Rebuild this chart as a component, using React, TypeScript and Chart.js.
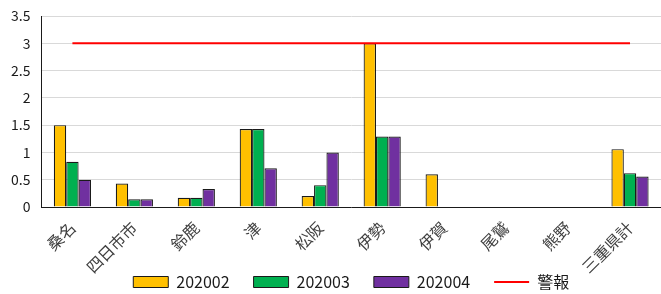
import React, { useEffect, useRef } from "react";
import { Chart, registerables } from "chart.js";

Chart.register(...registerables);

const categories = ["桑名", "四日市市", "鈴鹿", "津", "松阪", "伊勢", "伊賀", "尾鷲", "熊野", "三重県計"];
const s202002 = [1.5, 0.43, 0.17, 1.43, 0.2, 3.0, 0.6, 0, 0, 1.06];
const s202003 = [0.83, 0.14, 0.17, 1.43, 0.4, 1.29, 0, 0, 0, 0.62];
const s202004 = [0.5, 0.14, 0.33, 0.71, 1.0, 1.29, 0, 0, 0, 0.56];
const alarm = [3, 3, 3, 3, 3, 3, 3, 3, 3, 3];
const yTicks = [0, 0.5, 1, 1.5, 2, 2.5, 3, 3.5];

const FONT = '"Noto Sans CJK JP", "Noto Sans", sans-serif';

export default function App() {
  const ref = useRef<HTMLCanvasElement | null>(null);
  useEffect(() => {
    document.body.style.margin = "0";
    const ctx = ref.current!;
    const barCommon = {
      type: "bar" as const,
      borderColor: "#1a1a1a",
      borderWidth: 1.2,
      categoryPercentage: 0.6,
      barPercentage: 1,
      order: 2,
    };
    const chart = new Chart(ctx, {
      type: "bar",
      data: {
        labels: categories,
        datasets: [
          { ...barCommon, label: "202002", data: s202002, backgroundColor: "#FFC000" },
          { ...barCommon, label: "202003", data: s202003, backgroundColor: "#00B050" },
          { ...barCommon, label: "202004", data: s202004, backgroundColor: "#7030A0" },
          {
            type: "line" as const,
            label: "警報",
            data: alarm,
            borderColor: "#FF0000",
            backgroundColor: "#FF0000",
            borderWidth: 2,
            pointRadius: 0,
            order: 1,
          } as any,
        ],
      },
      options: {
        animation: false,
        responsive: false,
        maintainAspectRatio: false,
        layout: { padding: { left: 0, right: 0, top: 16, bottom: -6 } },
        plugins: {
          tooltip: { enabled: false },
          legend: {
            position: "bottom",
            fullSize: false,
            labels: {
              font: { family: FONT, size: 16 },
              color: "#1a1a1a",
              usePointStyle: true,
              pointStyleWidth: 35,
              boxHeight: 11,
              padding: 24,
              sort: (a: any, b: any) => a.datasetIndex - b.datasetIndex,
              generateLabels: (c: any) => {
                const items = Chart.defaults.plugins.legend.labels.generateLabels(c);
                return items.map((it: any) => {
                  if (it.datasetIndex === 3) {
                    return { ...it, pointStyle: "line", lineWidth: 2, strokeStyle: "#FF0000", fillStyle: "#FF0000" };
                  }
                  return { ...it, pointStyle: "rect", lineWidth: 1, strokeStyle: "#1a1a1a" };
                });
              },
            },
          },
        },
        scales: {
          x: {
            grid: { display: false, drawTicks: false },
            border: { color: "#1a1a1a", width: 1 },
            afterFit: (scale: any) => {
              scale.height = 43;
              // let the rotated labels run past the axis box, as in the reference
              scale._computeLabelArea = () => undefined;
            },
            ticks: {
              font: { family: FONT, size: 16 },
              color: "#404040",
              maxRotation: 45,
              minRotation: 45,
              padding: 11,
            },
          },
          y: {
            min: 0,
            max: 3.5,
            afterBuildTicks: (axis: any) => {
              axis.ticks = yTicks.map((v) => ({ value: v }));
            },
            afterFit: (scale: any) => {
              scale.paddingTop = 0;
            },
            grid: { color: "#D9D9D9", lineWidth: 1, drawTicks: false },
            border: { color: "#1a1a1a", width: 1 },
            ticks: {
              font: { family: FONT, size: 14 },
              color: "#1a1a1a",
              padding: 11,
              callback: (v: any) => String(v),
            },
          },
        },
      },
    });
    return () => chart.destroy();
  }, []);
  return (
    <div style={{ position: "fixed", left: 0, top: 0, width: 661, height: 294 }}>
      <canvas ref={ref} width={661} height={294} style={{ width: 661, height: 294 }} />
    </div>
  );
}
